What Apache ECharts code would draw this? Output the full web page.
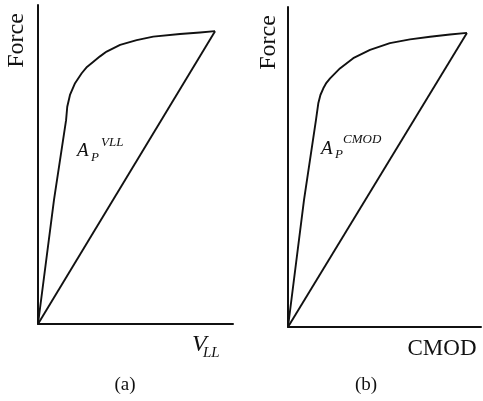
<!DOCTYPE html>
<html>
<head>
<meta charset="utf-8">
<script src="https://cdn.jsdelivr.net/npm/echarts@6/dist/echarts.min.js"></script>
<style>
html,body{margin:0;padding:0;background:#fff;}
#c{width:483px;height:401px;}
</style>
</head>
<body>
<div id="c"></div>
<script>
// ---- data (arbitrary units 0..100 on both axes) ----
const loadCurveVLL = [[0,0],[8.2,38.9],[14.4,63.9],[15.0,68.1],[16.4,71.8],[19.0,75.5],[22.4,78.6],[25.1,80.6],[28.4,82.2],[31.8,83.9],[35.2,85.4],[42.1,87.5],[50.6,89.0],[59.1,90.1],[72.8,90.9],[83.1,91.4],[90.8,91.8]];
const chordVLL = [[0,0],[90.8,91.8]];
const loadCurveCMOD = [[0,0],[8.3,39.7],[14.5,64.7],[15.7,69.9],[16.8,72.5],[18.3,74.6],[19.9,76.3],[21.8,77.7],[26.9,80.8],[33.8,84.0],[42.5,86.6],[52.8,88.7],[63.2,89.9],[73.6,90.7],[83.9,91.4],[92.7,91.9]];
const chordCMOD = [[0,0],[92.7,91.9]];
const yAxisTitle = 'Force';
const xAxisTitleB = 'CMOD';
const panelLabels = ['(a)', '(b)'];

const ink = '#111';
const serif = '"Liberation Serif", "Times New Roman", serif';

function axisX(gi){
  return {gridIndex:gi,type:'value',min:0,max:100,
    axisLine:{show:true,onZero:false,lineStyle:{color:ink,width:2}},
    axisTick:{show:false},axisLabel:{show:false},splitLine:{show:false}};
}
function axisY(gi){
  return {gridIndex:gi,type:'value',min:0,max:100,
    axisLine:{show:true,onZero:false,lineStyle:{color:ink,width:2}},
    axisTick:{show:false},axisLabel:{show:false},splitLine:{show:false}};
}
function lineSeries(gi,data){
  return {type:'line',xAxisIndex:gi,yAxisIndex:gi,data:data,symbol:'none',
    smooth:false,animation:false,
    lineStyle:{color:ink,width:1.9,join:'round'}};
}
function txt(x,y,text,font,align,rot){
  return {type:'text',x:x,y:y,rotation:rot||0,silent:true,
    style:{text:text,font:font,fill:ink,textAlign:align||'left',textVerticalAlign:'middle'}};
}

const chart = echarts.init(document.getElementById('c'),null,{renderer:'canvas'});
chart.setOption({
  animation:false,
  backgroundColor:'#fff',
  grid:[
    {left:38,top:5,width:195,bottom:77},
    {left:288,top:7,width:193,bottom:74}
  ],
  xAxis:[axisX(0),axisX(1)],
  yAxis:[axisY(0),axisY(1)],
  series:[
    lineSeries(0,loadCurveVLL),
    lineSeries(0,chordVLL),
    lineSeries(1,loadCurveCMOD),
    lineSeries(1,chordCMOD)
  ],
  graphic:[
    txt(16.5,40.5,yAxisTitle,'24px '+serif,'center',Math.PI/2),
    txt(268.5,42.5,yAxisTitle,'24px '+serif,'center',Math.PI/2),
    // A_P^VLL
    txt(77,151,'A','italic 19px '+serif),
    txt(91,157.5,'P','italic 13px '+serif),
    txt(101,142.5,'VLL','italic 13px '+serif),
    // A_P^CMOD
    txt(321,148.5,'A','italic 19px '+serif),
    txt(335,155,'P','italic 13px '+serif),
    txt(343,139.5,'CMOD','italic 13px '+serif),
    // V_LL
    txt(192,345,'V','italic 24px '+serif),
    txt(203,353,'LL','italic 15px '+serif),
    // CMOD
    txt(442,348.5,xAxisTitleB,'23px '+serif,'center'),
    // panel labels
    txt(125,385,panelLabels[0],'19px '+serif,'center'),
    txt(366,385,panelLabels[1],'19px '+serif,'center')
  ]
});
</script>
</body>
</html>
